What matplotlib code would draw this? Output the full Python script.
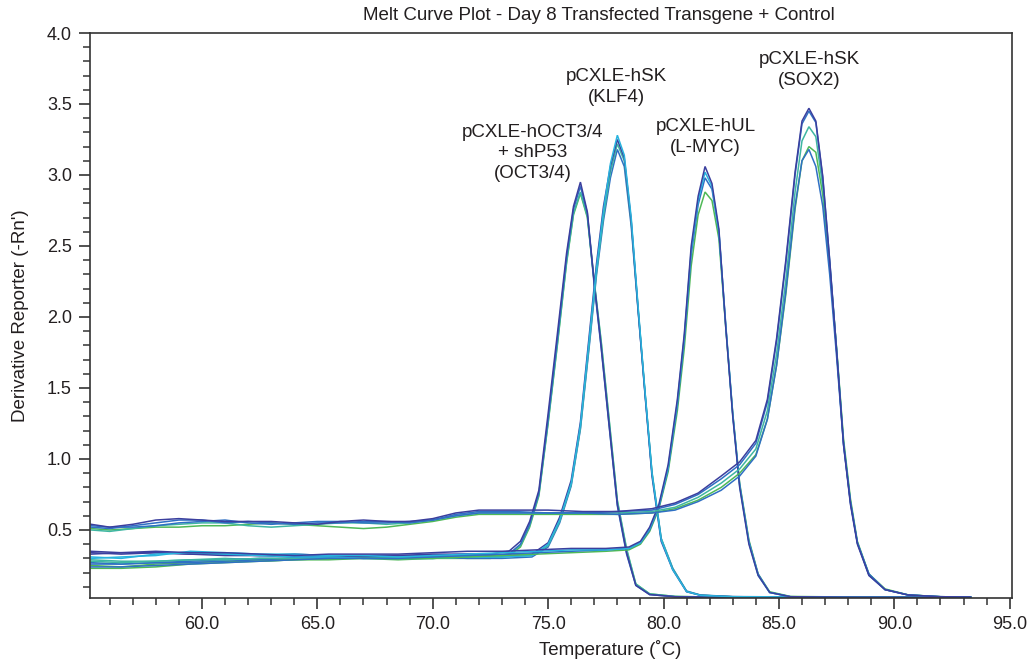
import matplotlib
matplotlib.use("Agg")
import matplotlib.pyplot as plt
from matplotlib.ticker import MultipleLocator, FormatStrFormatter

plt.rcParams["font.family"] = ["Liberation Sans", "DejaVu Sans"]

# ---- colours of the replicate wells
INDIGO = "#3b3f9e"
BLUE = "#2f70c4"
CYAN = "#28b4de"
GREEN = "#4fb957"
TEAL = "#3fb6a2"

# ---- OCT3/4 amplicon
oct_temp = [55.2, 56.5, 58.0, 59.5, 61.0, 62.5, 64.0, 65.5, 67.0, 68.5, 70.0, 71.5,
            72.5, 73.3, 73.8, 74.2, 74.6, 75.0, 75.4, 75.8, 76.1, 76.4, 76.7, 77.0,
            77.3, 77.6, 78.0, 78.4, 78.8, 79.4, 80.5, 82.0, 85.0, 89.0, 93.3]
oct_indigo = [0.34, 0.33, 0.34, 0.33, 0.32, 0.32, 0.31, 0.32, 0.32, 0.32, 0.33, 0.33,
              0.33, 0.35, 0.42, 0.56, 0.78, 1.32, 1.88, 2.45, 2.78, 2.95, 2.74, 2.24,
              1.79, 1.31, 0.68, 0.34, 0.11, 0.045, 0.03, 0.027, 0.026, 0.025, 0.025]
oct_blue = [0.27, 0.26, 0.27, 0.28, 0.29, 0.30, 0.30, 0.31, 0.30, 0.31, 0.31, 0.32,
            0.31, 0.33, 0.40, 0.54, 0.76, 1.28, 1.84, 2.42, 2.76, 2.92, 2.73, 2.22,
            1.78, 1.30, 0.67, 0.33, 0.11, 0.045, 0.03, 0.027, 0.026, 0.025, 0.025]
oct_green = [0.25, 0.24, 0.26, 0.27, 0.28, 0.28, 0.29, 0.30, 0.30, 0.29, 0.30, 0.30,
             0.30, 0.32, 0.38, 0.52, 0.74, 1.25, 1.80, 2.38, 2.72, 2.87, 2.70, 2.24,
             1.82, 1.34, 0.70, 0.36, 0.12, 0.05, 0.032, 0.028, 0.027, 0.026, 0.025]
oct_teal = [0.29, 0.28, 0.28, 0.29, 0.30, 0.29, 0.30, 0.30, 0.31, 0.30, 0.30, 0.31,
            0.32, 0.33, 0.39, 0.53, 0.75, 1.26, 1.81, 2.39, 2.73, 2.88, 2.71, 2.25,
            1.83, 1.35, 0.71, 0.37, 0.12, 0.05, 0.032, 0.028, 0.027, 0.026, 0.025]

# ---- KLF4 amplicon
klf_temp = [55.2, 56.5, 58.0, 59.5, 61.0, 62.5, 64.0, 65.5, 67.0, 68.5, 70.0, 71.5,
            73.0, 74.3, 75.0, 75.5, 76.0, 76.4, 76.8, 77.1, 77.4, 77.7, 78.0, 78.3,
            78.6, 78.9, 79.2, 79.5, 79.9, 80.4, 81.0, 81.6, 83.0, 87.0, 93.3]
klf_cyan = [0.31, 0.30, 0.33, 0.34, 0.33, 0.32, 0.31, 0.31, 0.30, 0.30, 0.30, 0.31,
            0.31, 0.32, 0.40, 0.57, 0.83, 1.24, 1.87, 2.35, 2.75, 3.08, 3.28, 3.14,
            2.70, 2.07, 1.47, 0.90, 0.43, 0.22, 0.066, 0.04, 0.03, 0.027, 0.025]
klf_indigo = [0.35, 0.34, 0.34, 0.33, 0.33, 0.32, 0.33, 0.32, 0.31, 0.32, 0.32, 0.33,
              0.32, 0.33, 0.41, 0.59, 0.85, 1.26, 1.90, 2.38, 2.78, 3.06, 3.25, 3.12,
              2.68, 2.05, 1.45, 0.88, 0.42, 0.22, 0.065, 0.04, 0.03, 0.027, 0.025]
klf_blue = [0.26, 0.26, 0.27, 0.27, 0.28, 0.29, 0.30, 0.31, 0.30, 0.30, 0.31, 0.30,
            0.30, 0.31, 0.38, 0.55, 0.81, 1.21, 1.82, 2.30, 2.68, 2.98, 3.18, 3.06,
            2.64, 2.04, 1.46, 0.90, 0.44, 0.23, 0.07, 0.042, 0.031, 0.027, 0.025]
klf_teal = [0.28, 0.27, 0.28, 0.29, 0.29, 0.30, 0.30, 0.30, 0.31, 0.31, 0.30, 0.31,
            0.31, 0.32, 0.39, 0.56, 0.82, 1.22, 1.84, 2.32, 2.71, 3.02, 3.22, 3.10,
            2.67, 2.06, 1.47, 0.91, 0.44, 0.23, 0.068, 0.041, 0.03, 0.027, 0.025]

# ---- L-MYC amplicon
lmyc_temp = [55.2, 56.5, 58.0, 59.5, 61.0, 62.5, 64.0, 65.5, 67.0, 68.5, 70.0, 71.5,
             73.0, 74.5, 76.0, 77.5, 78.5, 79.0, 79.4, 79.8, 80.2, 80.6, 80.9, 81.2,
             81.5, 81.8, 82.1, 82.4, 82.7, 83.0, 83.3, 83.7, 84.1, 84.6, 85.5, 88.0, 93.3]
lmyc_indigo = [0.33, 0.34, 0.35, 0.34, 0.34, 0.33, 0.32, 0.33, 0.33, 0.33, 0.34, 0.35,
               0.35, 0.36, 0.37, 0.37, 0.38, 0.42, 0.52, 0.68, 0.96, 1.42, 1.88, 2.50,
               2.85, 3.06, 2.94, 2.62, 1.92, 1.30, 0.80, 0.40, 0.18, 0.06, 0.03, 0.027, 0.025]
lmyc_cyan = [0.30, 0.31, 0.32, 0.35, 0.34, 0.33, 0.33, 0.32, 0.32, 0.31, 0.32, 0.33,
             0.34, 0.35, 0.36, 0.36, 0.37, 0.41, 0.51, 0.67, 0.94, 1.40, 1.86, 2.47,
             2.82, 3.02, 2.92, 2.60, 1.93, 1.31, 0.81, 0.41, 0.18, 0.06, 0.03, 0.027, 0.025]
lmyc_blue = [0.24, 0.24, 0.25, 0.26, 0.27, 0.28, 0.29, 0.30, 0.30, 0.30, 0.31, 0.32,
             0.33, 0.34, 0.35, 0.36, 0.37, 0.41, 0.50, 0.66, 0.93, 1.38, 1.84, 2.44,
             2.79, 2.98, 2.90, 2.60, 1.94, 1.32, 0.82, 0.42, 0.19, 0.06, 0.03, 0.027, 0.025]
lmyc_green = [0.23, 0.23, 0.24, 0.26, 0.27, 0.28, 0.29, 0.29, 0.30, 0.30, 0.30, 0.31,
              0.32, 0.33, 0.34, 0.35, 0.36, 0.40, 0.49, 0.65, 0.91, 1.34, 1.78, 2.36,
              2.72, 2.88, 2.82, 2.55, 1.92, 1.32, 0.83, 0.43, 0.19, 0.065, 0.032, 0.028, 0.025]

# ---- SOX2 amplicon
sox_temp = [55.2, 56.0, 57.0, 58.0, 59.0, 60.0, 61.0, 62.0, 63.0, 64.0, 65.0, 66.0,
            67.0, 68.0, 69.0, 70.0, 71.0, 72.0, 73.5, 75.0, 76.5, 78.0, 79.5, 80.5,
            81.5, 82.5, 83.3, 84.0, 84.5, 84.9, 85.3, 85.7, 86.0, 86.3, 86.6, 86.9,
            87.2, 87.5, 87.8, 88.1, 88.4, 88.9, 89.6, 90.6, 92.0, 93.3]
sox_indigo = [0.54, 0.52, 0.54, 0.57, 0.58, 0.57, 0.56, 0.56, 0.56, 0.55, 0.54, 0.56,
              0.57, 0.56, 0.56, 0.58, 0.62, 0.64, 0.64, 0.64, 0.63, 0.63, 0.65, 0.69,
              0.76, 0.88, 0.98, 1.13, 1.42, 1.85, 2.40, 3.02, 3.38, 3.47, 3.38, 2.99,
              2.40, 1.76, 1.10, 0.68, 0.40, 0.18, 0.08, 0.042, 0.03, 0.028]
sox_blue_hi = [0.52, 0.51, 0.53, 0.55, 0.57, 0.57, 0.55, 0.56, 0.55, 0.54, 0.55, 0.55,
               0.56, 0.56, 0.55, 0.57, 0.61, 0.63, 0.63, 0.62, 0.62, 0.63, 0.64, 0.68,
               0.75, 0.86, 0.96, 1.11, 1.40, 1.83, 2.38, 3.00, 3.36, 3.45, 3.37, 2.98,
               2.40, 1.77, 1.11, 0.69, 0.41, 0.18, 0.08, 0.042, 0.03, 0.028]
sox_teal = [0.50, 0.49, 0.51, 0.53, 0.54, 0.55, 0.55, 0.53, 0.52, 0.53, 0.54, 0.55,
            0.55, 0.54, 0.55, 0.57, 0.60, 0.62, 0.62, 0.62, 0.62, 0.62, 0.63, 0.66,
            0.73, 0.83, 0.93, 1.07, 1.34, 1.74, 2.26, 2.88, 3.24, 3.34, 3.27, 2.92,
            2.38, 1.77, 1.12, 0.70, 0.41, 0.19, 0.08, 0.043, 0.03, 0.028]
sox_green = [0.51, 0.50, 0.51, 0.52, 0.52, 0.53, 0.53, 0.54, 0.55, 0.54, 0.53, 0.52,
             0.51, 0.52, 0.54, 0.56, 0.59, 0.61, 0.61, 0.61, 0.61, 0.61, 0.62, 0.65,
             0.71, 0.80, 0.90, 1.03, 1.28, 1.66, 2.16, 2.76, 3.10, 3.20, 3.16, 2.86,
             2.36, 1.78, 1.14, 0.72, 0.42, 0.19, 0.085, 0.043, 0.03, 0.028]
sox_blue_lo = [0.53, 0.52, 0.52, 0.53, 0.55, 0.56, 0.57, 0.55, 0.54, 0.55, 0.56, 0.56,
               0.55, 0.55, 0.56, 0.57, 0.60, 0.62, 0.62, 0.62, 0.62, 0.61, 0.62, 0.64,
               0.70, 0.78, 0.88, 1.02, 1.28, 1.66, 2.18, 2.78, 3.10, 3.18, 3.06, 2.78,
               2.30, 1.72, 1.10, 0.70, 0.41, 0.19, 0.08, 0.042, 0.03, 0.028]

# (temperatures, values, colour) for every well
curves = [
    (oct_temp, oct_green, GREEN), (oct_temp, oct_teal, TEAL),
    (oct_temp, oct_blue, BLUE), (oct_temp, oct_indigo, INDIGO),
    (klf_temp, klf_blue, BLUE), (klf_temp, klf_teal, TEAL),
    (klf_temp, klf_indigo, INDIGO), (klf_temp, klf_cyan, CYAN),
    (lmyc_temp, lmyc_green, GREEN), (lmyc_temp, lmyc_blue, BLUE),
    (lmyc_temp, lmyc_cyan, CYAN), (lmyc_temp, lmyc_indigo, INDIGO),
    (sox_temp, sox_green, GREEN), (sox_temp, sox_teal, TEAL),
    (sox_temp, sox_blue_lo, BLUE), (sox_temp, sox_blue_hi, BLUE),
    (sox_temp, sox_indigo, INDIGO),
]

# peak labels
peak_labels = ["pCXLE-hOCT3/4\n+ shP53\n(OCT3/4)", "pCXLE-hSK\n(KLF4)",
               "pCXLE-hUL\n(L-MYC)", "pCXLE-hSK\n(SOX2)"]
label_temp = [74.34, 77.97, 81.83, 86.33]
label_value = [3.155, 3.62, 3.27, 3.74]

TXT = "#231f20"

fig = plt.figure(figsize=(10.34, 6.67), dpi=100)
ax = fig.add_axes([90 / 1034, 1 - 598 / 667, 922 / 1034, 565 / 667])

for t, v, c in curves:
    ax.plot(t, v, color=c, lw=1.1, solid_joinstyle="miter")

for s, tx, ty in zip(peak_labels, label_temp, label_value):
    ax.text(tx, ty, s, ha="center", va="center", fontsize=13.5, color=TXT,
            linespacing=1.3)

ax.set_xlim(55.15, 95.1)
ax.set_ylim(0.021, 4.0)

ax.xaxis.set_major_locator(MultipleLocator(5))
ax.xaxis.set_minor_locator(MultipleLocator(1))
ax.xaxis.set_major_formatter(FormatStrFormatter("%.1f"))
ax.yaxis.set_major_locator(MultipleLocator(0.5))
ax.yaxis.set_minor_locator(MultipleLocator(0.1))
ax.yaxis.set_major_formatter(FormatStrFormatter("%.1f"))

ax.tick_params(which="major", direction="out", length=8, width=1.2,
               labelsize=13, colors="#333333", labelcolor=TXT, pad=5)
ax.tick_params(which="minor", direction="out", length=5, width=1.1,
               colors="#333333")
for sp in ax.spines.values():
    sp.set_color("#333333")
    sp.set_linewidth(1.2)

ax.set_xlabel("Temperature (˚C)", fontsize=13.5, color=TXT)
ax.xaxis.set_label_coords(0.564, -0.075)
ax.set_ylabel("Derivative Reporter (-Rn')", fontsize=13.5, color=TXT)
ax.yaxis.set_label_coords(-0.066, 0.5)

fig.text(599 / 1034, 1 - 16 / 667, "Melt Curve Plot - Day 8 Transfected Transgene + Control",
         ha="center", va="center", fontsize=13.5, color=TXT)

plt.savefig("out.png", dpi=100)
